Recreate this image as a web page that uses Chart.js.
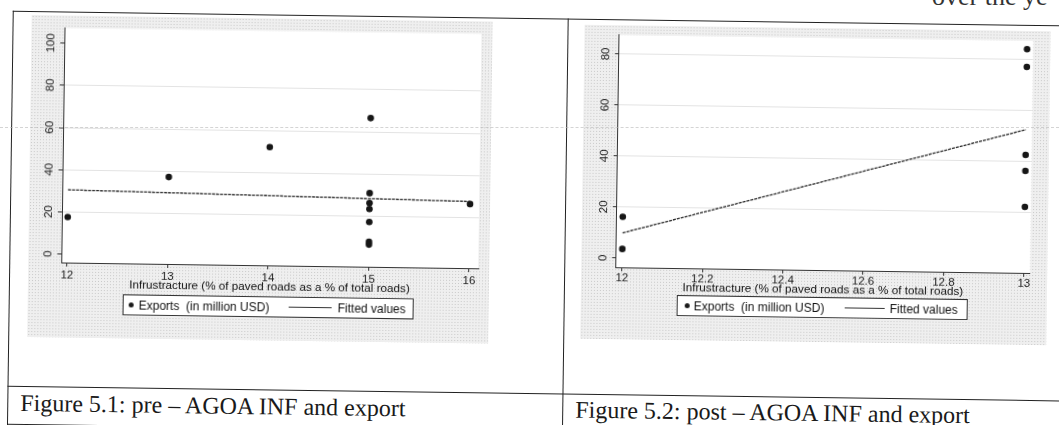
<!DOCTYPE html>
<html>
<head>
<meta charset="utf-8">
<script src="https://cdn.jsdelivr.net/npm/chart.js@4.4.1/dist/chart.umd.min.js"></script>
<style>
  html, body { margin: 0; padding: 0; background: #fff; }
  body { width: 1059px; height: 425px; overflow: hidden; position: relative; }
  #page { position: absolute; left: 0; top: 0; width: 1059px; height: 425px; transform: rotate(0.8deg); transform-origin: 530px 212px; }
  .hline { position: absolute; height: 0; border-top: 1.5px solid #222; }
  .vline { position: absolute; width: 0; border-left: 1.5px solid #222; }
  .panel { position: absolute; background-color: #efefef; background-image: radial-gradient(circle, #c9c9c9 0.8px, transparent 1px); background-size: 3px 3px; }
  .panel canvas { position: absolute; left: 0; top: 0; }
  .legend { position: absolute; height: 19px; border: 1px solid #333; background: #fff; font: 12px 'Liberation Sans', Arial, sans-serif; color: #111; }
  .legend span { position: absolute; top: 3px; white-space: pre; }
  .legend .dot { position: absolute; width: 5px; height: 5px; border-radius: 50%; background: #1a1a1a; top: 7px; }
  .legend .ln { position: absolute; height: 0; border-top: 1px solid #333; top: 9px; }
  .caption { position: absolute; font: 24px/1 'Liberation Serif', 'Times New Roman', serif; color: #1a1a1a; white-space: nowrap; }
  .scanline { position: absolute; left: 0; top: 127px; width: 1059px; border-top: 1px dashed #b8b8b8; opacity: .6; }
  .cut { position: absolute; left: 932px; top: -18px; font: 26px 'Liberation Serif', serif; color: #333; white-space: nowrap; }
</style>
</head>
<body>
<div id="page">
  <div class="hline" style="left:10px; top:18px; width:1070px;"></div>
  <div class="hline" style="left:10px; top:393px; width:1070px;"></div>
  <div class="hline" style="left:10px; top:431px; width:1070px;"></div>
  <div class="vline" style="left:10px; top:18px; height:420px;"></div>
  <div class="vline" style="left:565px; top:18px; height:420px;"></div>

  <div class="panel" style="left:29px; top:22px; width:461px; height:322px;">
    <canvas id="preChart" width="461" height="322"></canvas>
    <div class="legend" style="left:95px; top:278px; width:289px;">
      <div class="dot" style="left:5px;"></div>
      <span style="left:15px;">Exports  (in million USD)</span>
      <div class="ln" style="left:165px; width:43px;"></div>
      <span style="left:214px;">Fitted values</span>
    </div>
  </div>

  <div class="panel" style="left:582px; top:24px; width:466px; height:314px;">
    <canvas id="postChart" width="466" height="314"></canvas>
    <div class="legend" style="left:96px; top:269px; width:289px;">
      <div class="dot" style="left:7px;"></div>
      <span style="left:16px;">Exports  (in million USD)</span>
      <div class="ln" style="left:167px; width:40px;"></div>
      <span style="left:212px;">Fitted values</span>
    </div>
  </div>

  <div class="caption" style="left:23px; top:398px;">Figure 5.1: pre – AGOA INF and export</div>
  <div class="caption" style="left:578px; top:397px;">Figure 5.2: post – AGOA INF and export</div>
</div>
<div class="scanline"></div>
<div class="cut">over the ye</div>

<script>
// pre-AGOA
const preInf = [12, 13, 14, 15, 15, 15, 15, 15, 15, 15, 16];
const preExports = [17.6, 37.2, 52.1, 66.5, 30.9, 26.2, 23.4, 17.2, 7.8, 6.5, 26.4];
const preFitX = [12, 16];
const preFitY = [30.5, 27.6];
const preXTicks = [12, 13, 14, 15, 16];
const preYTicks = [0, 20, 40, 60, 80, 100];

// post-AGOA
const postInf = [12, 12, 13, 13, 13, 13, 13];
const postExports = [16.2, 3.6, 84.2, 77.2, 42.7, 36.4, 22.3];
const postFitX = [12, 13];
const postFitY = [9.9, 52.6];
const postXTicks = [12, 12.2, 12.4, 12.6, 12.8, 13];
const postYTicks = [0, 20, 40, 60, 80];

const xTitle = 'Infrustracture (% of paved roads as a % of total roads)';
const family = "'Liberation Sans', Arial, sans-serif";

// white plot region on the gray graph region
const plotBg = {
  id: 'plotBg',
  beforeDraw(chart) {
    const { ctx, chartArea: a } = chart;
    ctx.save();
    ctx.fillStyle = '#fff';
    ctx.fillRect(a.left, a.top, a.right - a.left, a.bottom - a.top);
    ctx.restore();
  }
};

function pairs(xs, ys) {
  return xs.map((v, i) => ({ x: v, y: ys[i] }));
}

function buildChart(id, c) {
  return new Chart(document.getElementById(id), {
    type: 'scatter',
    data: {
      datasets: [
        {
          label: 'Exports  (in million USD)',
          data: pairs(c.x, c.y),
          pointRadius: 3.3,
          pointBackgroundColor: '#161616',
          pointBorderWidth: 0,
          order: 1
        },
        {
          type: 'line',
          label: 'Fitted values',
          data: pairs(c.fitX, c.fitY),
          borderColor: '#2a2a2a',
          borderWidth: 1.3,
          borderDash: [3, 1],
          pointRadius: 0,
          fill: false,
          order: 2
        }
      ]
    },
    options: {
      responsive: false,
      animation: false,
      layout: { padding: c.pad },
      plugins: { legend: { display: false }, tooltip: { enabled: false } },
      scales: {
        x: {
          type: 'linear',
          min: c.xMin,
          max: c.xMax,
          afterBuildTicks: s => { s.ticks = c.xTicks.map(v => ({ value: v })); },
          afterFit: s => { s.height = c.xH; },
          grid: { drawOnChartArea: false, drawTicks: true, tickLength: 4, tickColor: '#333' },
          border: { color: '#333', width: 1 },
          ticks: {
            padding: c.xTickPad, color: '#222', font: { family, size: 11.5 },
            maxRotation: 0, autoSkip: false,
            callback: v => String(+v.toFixed(2))
          },
          title: { display: true, text: xTitle, color: '#111', font: { family, size: 11.7 }, padding: { top: 0, bottom: 0 } }
        },
        y: {
          type: 'linear',
          min: c.yMin,
          max: c.yMax,
          afterBuildTicks: s => { s.ticks = c.yTicks.map(v => ({ value: v })); },
          afterFit: s => { s.width = c.yW; },
          grid: {
            color: ctx => (ctx.tick && (ctx.tick.value === 0 || ctx.tick.value === 100)) ? 'rgba(0,0,0,0)' : '#e3e3e3',
            tickColor: '#333', tickLength: 4, lineWidth: 1
          },
          border: { color: '#333', width: 1 },
          ticks: {
            minRotation: 90, maxRotation: 90, crossAlign: 'center',
            padding: c.yTickPad, color: '#222', font: { family, size: 11.5 },
            callback: v => String(v)
          }
        }
      }
    },
    plugins: [plotBg]
  });
}

buildChart('preChart', {
  x: preInf, y: preExports, fitX: preFitX, fitY: preFitY,
  xTicks: preXTicks, yTicks: preYTicks,
  xMin: 11.942, xMax: 16.09, yMin: -4.0, yMax: 107.2,
  pad: { left: 0, top: 12.5, right: 11, bottom: 46.5 },
  yW: 33, xH: 28.5, xTickPad: 2, yTickPad: 0
});

buildChart('postChart', {
  x: postInf, y: postExports, fitX: postFitX, fitY: postFitY,
  xTicks: postXTicks, yTicks: postYTicks,
  xMin: 11.985, xMax: 13.015, yMin: -3.6, yMax: 87.5,
  pad: { left: 0, top: 9.8, right: 17.2, bottom: 45 },
  yW: 34.8, xH: 27, xTickPad: 0, yTickPad: 2.5
});
</script>
</body>
</html>
